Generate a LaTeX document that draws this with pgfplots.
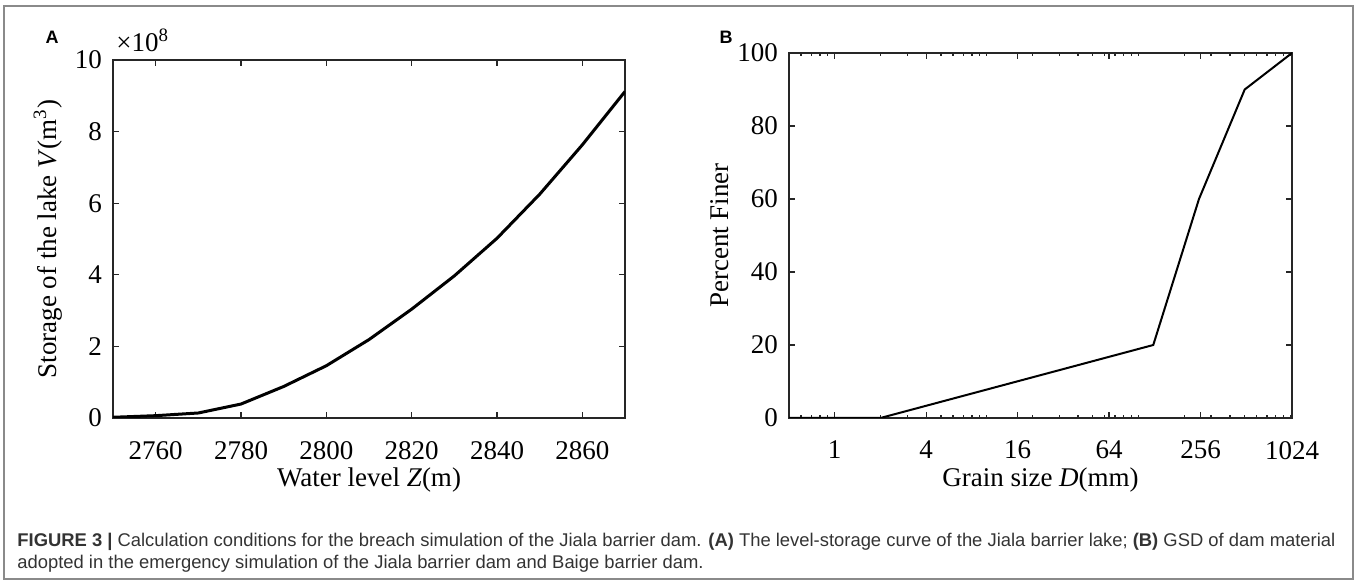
\documentclass[border=0pt]{standalone}
\usepackage{fontspec}
\setmainfont{Liberation Serif}
\newfontfamily\capfont{Liberation Sans}
\usepackage{pgfplots}
\pgfplotsset{compat=1.18}
\definecolor{axgray}{HTML}{262626}
\definecolor{framegray}{HTML}{8A8A8A}
\definecolor{captext}{HTML}{333333}
\begin{document}
\begin{tikzpicture}
\useasboundingbox (0,0) rectangle (679.5pt,291.5pt);
\draw[framegray, line width=1pt] (2pt,2pt) rectangle (676.5pt,288.5pt);
\pgfplotsset{
  mystyle/.style={
    scale only axis, anchor=south west,
    axis line style={line width=0.7pt, axgray},
    tick style={line width=0.6pt, axgray},
    tick align=inside,
    major tick length=3pt,
    minor tick length=1.6pt,
    tick label style={font=\fontsize{13.5}{16}\selectfont},
    label style={font=\fontsize{13.5}{16}\selectfont},
    /pgf/number format/assume math mode=true,
    /pgf/number format/1000 sep={},
    scaled ticks=false,
    xticklabel style={yshift=-8pt},
    yticklabel style={xshift=-2pt},
  }
}
\begin{axis}[mystyle, at={(56.5pt,82.5pt)}, width=256pt, height=179pt,
  xmin=2750, xmax=2870, ymin=0, ymax=10,
  xtick={2760,2780,2800,2820,2840,2860}, ytick={0,2,4,6,8,10},
  xlabel={Water level \textit{Z}(m)},
  ylabel={Storage of the lake \textit{V}(m\textsuperscript{3})},
  xlabel style={at={(rel axis cs:0.5,-0.173)}, anchor=center},
  ylabel style={at={(rel axis cs:-0.127,0.5)}, anchor=center},
]
\addplot[black, line width=1.5pt] coordinates {
(2750,0.02) (2760,0.065) (2770,0.14) (2780,0.39) (2790,0.88) (2800,1.46)
(2810,2.19) (2820,3.04) (2830,3.97) (2840,5.02) (2850,6.25) (2860,7.63) (2870,9.12)};
\end{axis}
\node[anchor=base west, font=\fontsize{13.5}{16}\selectfont, inner sep=0pt] at (58pt,265.5pt) {×10\textsuperscript{8}};
\node[font=\capfont\bfseries\fontsize{9}{11}\selectfont] at (26pt,273pt) {A};
\node[font=\capfont\bfseries\fontsize{9}{11}\selectfont] at (363pt,273pt) {B};
\begin{axis}[mystyle, at={(394.5pt,82.5pt)}, width=251.5pt, height=182.5pt,
  xmode=log, xmin=0.5, xmax=1024, ymin=0, ymax=100,
  xtick={1,4,16,64,256,1024}, xticklabels={1,4,16,64,256,1024},
  minor xtick={0.6,0.7,0.8,0.9,2,3,5,6,7,8,9,10,20,30,40,50,60,70,80,90,100,200,300,400,500,600,700,800,900,1000},
  ytick={0,20,40,60,80,100},
  xlabel={Grain size \textit{D}(mm)},
  ylabel={Percent Finer},
  xlabel style={at={(rel axis cs:0.5,-0.170)}, anchor=center},
  ylabel style={at={(rel axis cs:-0.137,0.5)}, anchor=center},
]
\addplot[black, line width=1pt] coordinates {(0.5,0) (2,0) (125,20) (250,60) (500,90) (1024,100)};
\end{axis}
\node[anchor=base west, inner sep=0pt, font=\capfont\fontsize{9.2}{11}\selectfont, text=captext] at (8.5pt,18pt) {\textbf{FIGURE 3 |} Calculation conditions for the breach simulation of the Jiala barrier dam. \textbf{(A)} The level-storage curve of the Jiala barrier lake; \textbf{(B)} GSD of dam material};
\node[anchor=base west, inner sep=0pt, font=\capfont\fontsize{9.2}{11}\selectfont, text=captext] at (8.5pt,7pt) {adopted in the emergency simulation of the Jiala barrier dam and Baige barrier dam.};
\end{tikzpicture}
\end{document}
